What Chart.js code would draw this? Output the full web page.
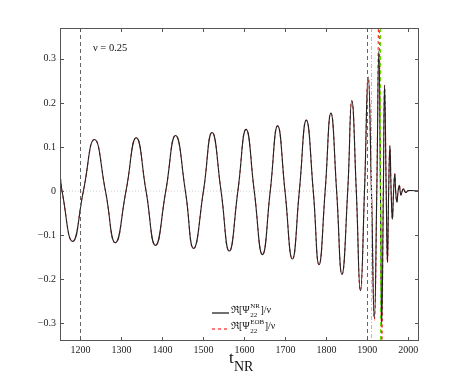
<!DOCTYPE html>
<html>
<head>
<meta charset="utf-8">
<script src="https://cdn.jsdelivr.net/npm/chart.js@4/dist/chart.umd.min.js"></script>
<style>
  html, body { margin: 0; padding: 0; background: #fff; }
  canvas { display: block; }
</style>
</head>
<body>
<canvas id="chart" width="463" height="384"></canvas>
<script>
// temps NR : extrema + passages par zero
const T_NR = [1151, 1155, 1181, 1207, 1234, 1261, 1285, 1311, 1336, 1360, 1383, 1408,
  1432, 1456, 1476, 1500, 1521, 1543, 1563, 1584, 1604, 1624, 1644, 1663,
  1681, 1699, 1717, 1734, 1751, 1768, 1782, 1797, 1811, 1825, 1838, 1852,
  1862, 1873, 1883, 1893, 1902, 1910, 1917, 1923, 1928, 1932, 1935, 1939,
  1942, 1946, 1949, 1952, 1955, 1958, 1961, 1964, 1967, 1969, 1972, 1975,
  1978, 1980, 1982, 1985, 1988, 1991, 1994, 2000, 2026];

const PSI_NR = [0.030, 0, -0.114, 0, 0.117, 0, -0.117, 0, 0.121, 0, -0.123, 0,
  0.126, 0, -0.130, 0, 0.133, 0, -0.136, 0, 0.140, 0, -0.144, 0,
  0.148, 0, -0.154, 0, 0.161, 0, -0.167, 0, 0.177, 0, -0.189, 0,
  0.205, 0, -0.226, 0, 0.259, 0, -0.288, 0, 0.318, 0, -0.303, 0,
  0.240, 0, -0.162, 0, 0.103, 0, -0.064, 0, 0.039, 0, -0.025, 0,
  0.013, 0, -0.009, 0, 0.005, 0, -0.003, 0.001, 0];

const PSI_EOB = [0.030, 0, -0.114, 0, 0.117, 0, -0.117, 0, 0.121, 0, -0.123, 0,
  0.126, 0, -0.130, 0, 0.133, 0, -0.136, 0, 0.140, 0, -0.144, 0,
  0.148, 0, -0.154, 0, 0.161, 0, -0.167, 0, 0.177, 0, -0.189, 0,
  0.205, 0, -0.226, 0, 0.259, 0, -0.292, 0, 0.390, 0, -0.360, 0,
  0.240, 0, -0.162, 0, 0.103, 0, -0.064, 0, 0.039, 0, -0.025, 0,
  0.013, 0, -0.009, 0, 0.005, 0, -0.003, 0.001, 0];

const X_TICKS = [1200, 1300, 1400, 1500, 1600, 1700, 1800, 1900, 2000];
const Y_TICKS = [-0.3, -0.2, -0.1, 0, 0.1, 0.2, 0.3];

// lignes verticales de reference
const MARKERS = [
  { t: 1200, color: '#666', dash: [4, 3] },
  { t: 1900, color: '#666', dash: [4, 3] },
  { t: 1908, color: '#a9b6ff', dash: [4, 2, 1, 2] },
  { t: 1931, color: '#66dd00', dash: [4, 3] },
];

const SERIF = "'Liberation Serif', 'DejaVu Serif', serif";

const toPts = (xs, ys) => xs.map((x, i) => ({ x, y: ys[i] }));

const decor = {
  id: 'decor',
  beforeDatasetsDraw(chart) {
    const { ctx, chartArea: a, scales: { y } } = chart;
    const y0 = y.getPixelForValue(0);
    ctx.save();
    ctx.strokeStyle = '#cfcfcf';
    ctx.lineWidth = 1;
    ctx.setLineDash([1, 2]);
    ctx.beginPath();
    ctx.moveTo(a.left, y0);
    ctx.lineTo(a.right, y0);
    ctx.stroke();
    ctx.restore();
  },
  afterDatasetsDraw(chart) {
    const { ctx, chartArea: a, scales: { x, y } } = chart;
    ctx.save();
    ctx.lineWidth = 1;
    MARKERS.forEach(m => {
      const px = Math.round(x.getPixelForValue(m.t)) + 0.5;
      ctx.strokeStyle = m.color;
      ctx.setLineDash(m.dash);
      ctx.beginPath();
      ctx.moveTo(px, a.top);
      ctx.lineTo(px, a.bottom);
      ctx.stroke();
    });
    ctx.setLineDash([]);

    // cadre + graduations interieures
    ctx.strokeStyle = '#555';
    ctx.strokeRect(a.left + 0.5, a.top + 0.5, a.right - a.left - 1, a.bottom - a.top - 1);
    ctx.beginPath();
    X_TICKS.forEach(v => {
      const px = Math.round(x.getPixelForValue(v)) + 0.5;
      ctx.moveTo(px, a.bottom); ctx.lineTo(px, a.bottom - 4);
      ctx.moveTo(px, a.top); ctx.lineTo(px, a.top + 4);
    });
    Y_TICKS.forEach(v => {
      const py = Math.round(y.getPixelForValue(v)) + 0.5;
      ctx.moveTo(a.left, py); ctx.lineTo(a.left + 4, py);
      ctx.moveTo(a.right, py); ctx.lineTo(a.right - 4, py);
    });
    ctx.stroke();

    // nu
    ctx.fillStyle = '#111';
    ctx.textBaseline = 'alphabetic';
    ctx.font = `10.5px ${SERIF}`;
    ctx.fillText('ν = 0.25', 93, 51);

    // legende
    const legend = [
      { sup: 'NR', color: '#111', dash: [], y: 313 },
      { sup: 'EOB', color: '#ff2020', dash: [3, 3], y: 329 },
    ];
    legend.forEach(l => {
      ctx.strokeStyle = l.color;
      ctx.lineWidth = 1.2;
      ctx.setLineDash(l.dash);
      ctx.beginPath();
      ctx.moveTo(212, l.y); ctx.lineTo(229, l.y);
      ctx.stroke();
      ctx.setLineDash([]);
      ctx.fillStyle = '#111';
      ctx.font = `10px ${SERIF}`;
      let cx = 231;
      ctx.fillText('ℜ[Ψ', cx, l.y);
      cx += ctx.measureText('ℜ[Ψ').width + 0.5;
      ctx.font = `7px ${SERIF}`;
      ctx.fillText(l.sup, cx, l.y - 5);
      ctx.fillText('22', cx, l.y + 4);
      cx += Math.max(ctx.measureText(l.sup).width, ctx.measureText('22').width) + 0.5;
      ctx.font = `10px ${SERIF}`;
      ctx.fillText(']/ν', cx, l.y);
    });

    // titre axe x
    ctx.font = `17px ${SERIF}`;
    ctx.fillText('t', 229, 363);
    ctx.font = `14px ${SERIF}`;
    ctx.fillText('NR', 234, 371);
    ctx.restore();
  },
};

new Chart(document.getElementById('chart'), {
  type: 'line',
  data: {
    datasets: [
      { label: 'NR', data: toPts(T_NR, PSI_NR), borderColor: '#222', borderWidth: 1.1, pointRadius: 0, tension: 0.5, fill: false },
      { label: 'EOB', data: toPts(T_NR, PSI_EOB), borderColor: '#ff3030', borderWidth: 1.1, borderDash: [3, 3], pointRadius: 0, tension: 0.5, fill: false },
    ],
  },
  options: {
    responsive: false,
    animation: false,
    devicePixelRatio: 1,
    layout: { padding: { top: 28, right: 44, left: 0, bottom: 0 } },
    plugins: { legend: { display: false }, tooltip: { enabled: false } },
    scales: {
      x: {
        type: 'linear', min: 1150, max: 2026,
        afterFit: s => { s.height = 43; },
        afterBuildTicks: s => { s.ticks = X_TICKS.map(value => ({ value })); },
        grid: { display: false, drawTicks: false },
        border: { display: false },
        ticks: { padding: 3, color: '#222', font: { family: SERIF, size: 10 }, callback: v => String(v) },
      },
      y: {
        type: 'linear', min: -0.34, max: 0.37,
        afterFit: s => { s.width = 60; },
        afterBuildTicks: s => { s.ticks = Y_TICKS.map(value => ({ value })); },
        grid: { display: false, drawTicks: false },
        border: { display: false },
        ticks: { padding: 4, color: '#222', font: { family: SERIF, size: 10 }, callback: v => v === 0 ? '0' : v.toFixed(1).replace('-', '−') },
      },
    },
  },
  plugins: [decor],
});
</script>
</body>
</html>
